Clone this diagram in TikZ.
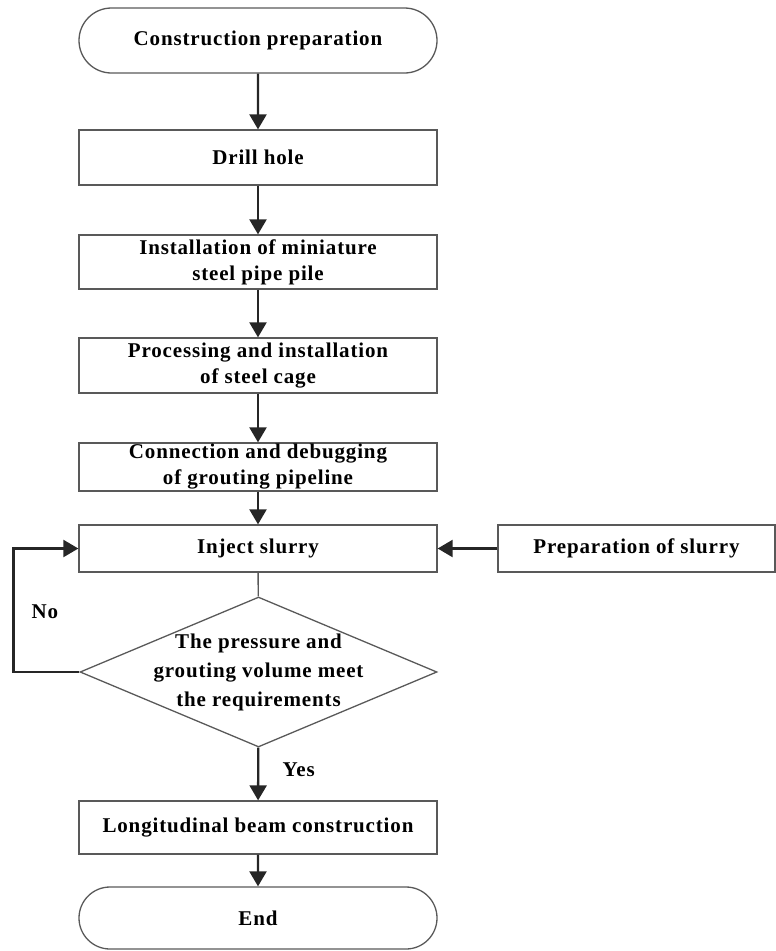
\documentclass[tikz,border=0pt]{standalone}
\usepackage{fontspec}
\setmainfont{Liberation Serif}[LetterSpace=4]
\usepackage{tikz}
\usetikzlibrary{arrows.meta,positioning,shapes.misc,shapes.geometric}

\begin{document}
\begin{tikzpicture}[x=1pt, y=-1pt,
  stage/.style={draw=black!65, line width=1.3pt, align=center, inner sep=0pt,
               minimum width=358pt, font=\bfseries\fontsize{21}{26}\selectfont},
  term/.style={stage, rounded rectangle},
  check/.style={stage, diamond, aspect=2.38, inner sep=-10pt,
                minimum width=357pt, minimum height=150pt,
                font=\bfseries\fontsize{21}{29}\selectfont},
  flow/.style={black!85, line width=2.3pt},
  >={Triangle[length=15pt, width=17pt]}]
\useasboundingbox (0,0) rectangle (776,951);
\node[term, minimum height=65pt] (start) at (258,40.5) {Construction preparation};
\node[stage, minimum height=55pt] (drill) at (258,157.5) {Drill hole};
\node[stage, minimum height=54pt] (pile) at (258,262)
  {Installation of miniature\\ steel pipe pile};
\node[stage, minimum height=55pt] (cage) at (258,365.5)
  {Processing and installation\\ of steel cage};
\node[stage, minimum height=48pt] (pipe) at (258,467)
  {Connection and debugging\\ of grouting pipeline};
\node[stage, minimum height=47pt] (inject) at (258,548.5) {Inject slurry};
\node[stage, minimum height=47pt, minimum width=277pt] (prep) at (636.5,548.5)
  {Preparation of slurry};
\node[check] (meet) at (258.5,672)
  {The pressure and\\ grouting volume meet\\ the requirements};
\node[stage, minimum height=53pt] (beam) at (258,827.5)
  {Longitudinal beam construction};
\node[term, minimum height=62pt] (end) at (258,918) {End};
% main chain
\draw[->, flow] (start) -- (drill);
\draw[->, flow] (drill) -- (pile);
\draw[->, flow] (pile) -- (cage);
\draw[->, flow] (cage) -- (pipe);
\draw[->, flow] (pipe) -- (inject);
\draw[black!65, line width=1.3pt] (inject) -- (meet);
\draw[->, flow] (meet) -- node[right=20pt, pos=0.42, text=black,
  font=\bfseries\fontsize{21}{26}\selectfont] {Yes} (beam);
\draw[->, flow] (beam) -- (end);
% side branches
\draw[->, flow] (prep) -- (inject);
\draw[->, flow] (meet.west) -- ++(-66,0) |- (inject.west);
\node[font=\bfseries\fontsize{21}{26}\selectfont] (no) at (45,612) {No};
\end{tikzpicture}
\end{document}
